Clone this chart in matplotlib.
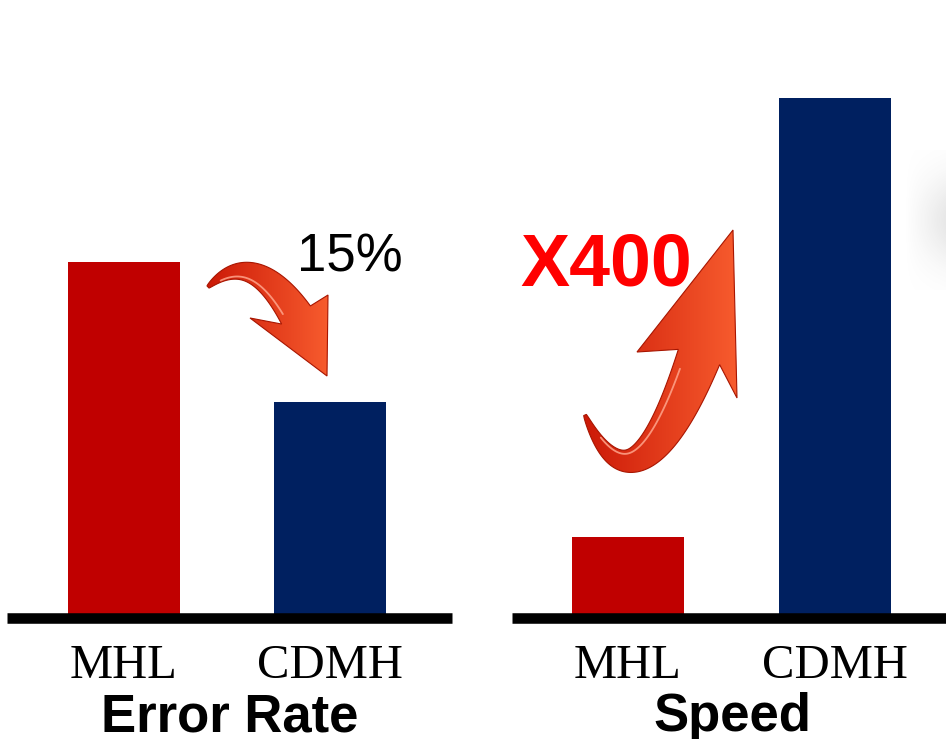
import numpy as np
import matplotlib
matplotlib.use("Agg")
import matplotlib.pyplot as plt
from matplotlib.patches import Polygon

# ---- data -------------------------------------------------------------
methods = ["MHL", "CDMH"]
error_rate = [1.00, 0.608]      # relative error rate
speed = [0.154, 1.00]           # relative speed
bar_colors = ["#C00000", "#002060"]
panel_titles = ["Error Rate", "Speed"]
error_note = "15%"
speed_note = "X400"

W, H = 946, 739
fig = plt.figure(figsize=(W / 100, H / 100), dpi=100)


def px_rect(x0, x1, ytop, ybot):
    return [x0 / W, (H - ybot) / H, (x1 - x0) / W, (ybot - ytop) / H]


def bar_panel(rect, values, xlim, ytop):
    ax = fig.add_axes(rect)
    ax.bar(range(len(values)), values, width=0.544, color=bar_colors, zorder=1)
    ax.set_xlim(*xlim)
    ax.set_ylim(0, ytop)
    for side in ("top", "left", "right"):
        ax.spines[side].set_visible(False)
    ax.spines["bottom"].set_linewidth(7.6)
    ax.spines["bottom"].set_color("black")
    ax.spines["bottom"].set_capstyle("butt")
    ax.spines["bottom"].set_zorder(3)
    ax.set_yticks([])
    ax.set_xticks(range(len(values)))
    ax.set_xticklabels(methods, family="Liberation Serif", fontsize=35)
    ax.tick_params(axis="x", length=0, pad=19)
    ax.patch.set_alpha(0)
    return ax


ax1 = bar_panel(px_rect(7, 452, 0, 617.5), error_rate, (-0.568, 1.592), 1.739)
ax2 = bar_panel(px_rect(512, 946, 0, 617.5), speed, (-0.560, 1.536), 1.188)

# ---- overlay for annotations (pixel coordinates) -----------------------
ov = fig.add_axes([0, 0, 1, 1], zorder=5)
ov.set_xlim(0, W)
ov.set_ylim(H, 0)
ov.axis("off")
ov.patch.set_alpha(0)

grad = np.linspace(0, 1, 256)
c0 = np.array([0.80, 0.10, 0.03])
c1 = np.array([0.97, 0.36, 0.18])
grad_img = (c0[None, :] * (1 - grad[:, None]) + c1[None, :] * grad[:, None])[None, :, :]


def curved_arrow(p0, p1, p2, w0, w1, barbs, tip, shine=1):
    t = np.linspace(0, 1, 80)[:, None]
    P0, P1, P2 = (np.array(p, float) for p in (p0, p1, p2))
    pts = (1 - t) ** 2 * P0 + 2 * (1 - t) * t * P1 + t ** 2 * P2
    d = 2 * (1 - t) * (P1 - P0) + 2 * t * (P2 - P1)
    d /= np.linalg.norm(d, axis=1, keepdims=True)
    n = np.column_stack([-d[:, 1], d[:, 0]])
    w = (w0 + (w1 - w0) * t[:, 0] ** 0.8)[:, None]
    plus = pts + n * w / 2
    minus = pts - n * w / 2
    b_a, b_b = (np.array(b, float) for b in barbs)
    if np.dot(b_a - P2, n[-1]) < 0:
        b_a, b_b = b_b, b_a
    poly = np.vstack([plus, b_a, np.array(tip, float), b_b, minus[::-1]])
    patch = Polygon(poly, closed=True, facecolor="none",
                    edgecolor="#A81500", lw=0.8, zorder=6)
    ov.add_patch(patch)
    xs, ys = poly[:, 0], poly[:, 1]
    im = ov.imshow(grad_img, extent=(xs.min(), xs.max(), ys.max(), ys.min()),
                   aspect="auto", zorder=5, interpolation="bilinear")
    im.set_clip_path(patch)
    # glossy highlight along one edge of the shaft
    edge = pts + shine * n * w * 0.32
    ov.plot(edge[10:-4, 0], edge[10:-4, 1], color="#FFA58C", lw=1.3,
            alpha=0.85, zorder=7, solid_capstyle="round")


# downward arrow over the error-rate panel
curved_arrow((208, 287), (252, 245), (296, 315), 3, 34,
             [(250, 318), (328, 295)], (327, 376), shine=1)
# upward arrow over the speed panel
curved_arrow((585, 415), (635, 530), (699, 357), 3, 44,
             [(637, 352), (737, 398)], (733, 230), shine=-1)

ov.set_xlim(0, W)
ov.set_ylim(H, 0)

# notes
ov.text(297, 271, error_note, fontsize=38, family="Liberation Sans",
        color="black", ha="left", va="baseline", zorder=8)
ov.text(520, 286, speed_note, fontsize=53, family="Liberation Sans",
        weight="bold", color="#FF0000", ha="left", va="baseline", zorder=8)

# panel titles
ov.text(230, 731, panel_titles[0], fontsize=38, family="Liberation Sans",
        weight="bold", ha="center", va="baseline")
ov.text(732, 731, panel_titles[1], fontsize=38, family="Liberation Sans",
        weight="bold", ha="center", va="baseline")

# caption running off the top edge
ov.text(638, -9, "(b)", fontsize=30, family="Liberation Sans",
        color="#333333", ha="center", va="baseline")

# soft grey sheen at the right border
yy = np.linspace(-1, 1, 120)[:, None]
xx = np.linspace(0, 1, 40)[None, :]
alpha = 0.20 * np.exp(-yy ** 2 * 2.5) * xx
sheen = np.zeros((120, 40, 4))
sheen[..., :3] = 0.55
sheen[..., 3] = alpha
ov.imshow(sheen, extent=(905, 946, 290, 150), aspect="auto", zorder=4)
ov.set_xlim(0, W)
ov.set_ylim(H, 0)

fig.savefig("out.png", dpi=100)
